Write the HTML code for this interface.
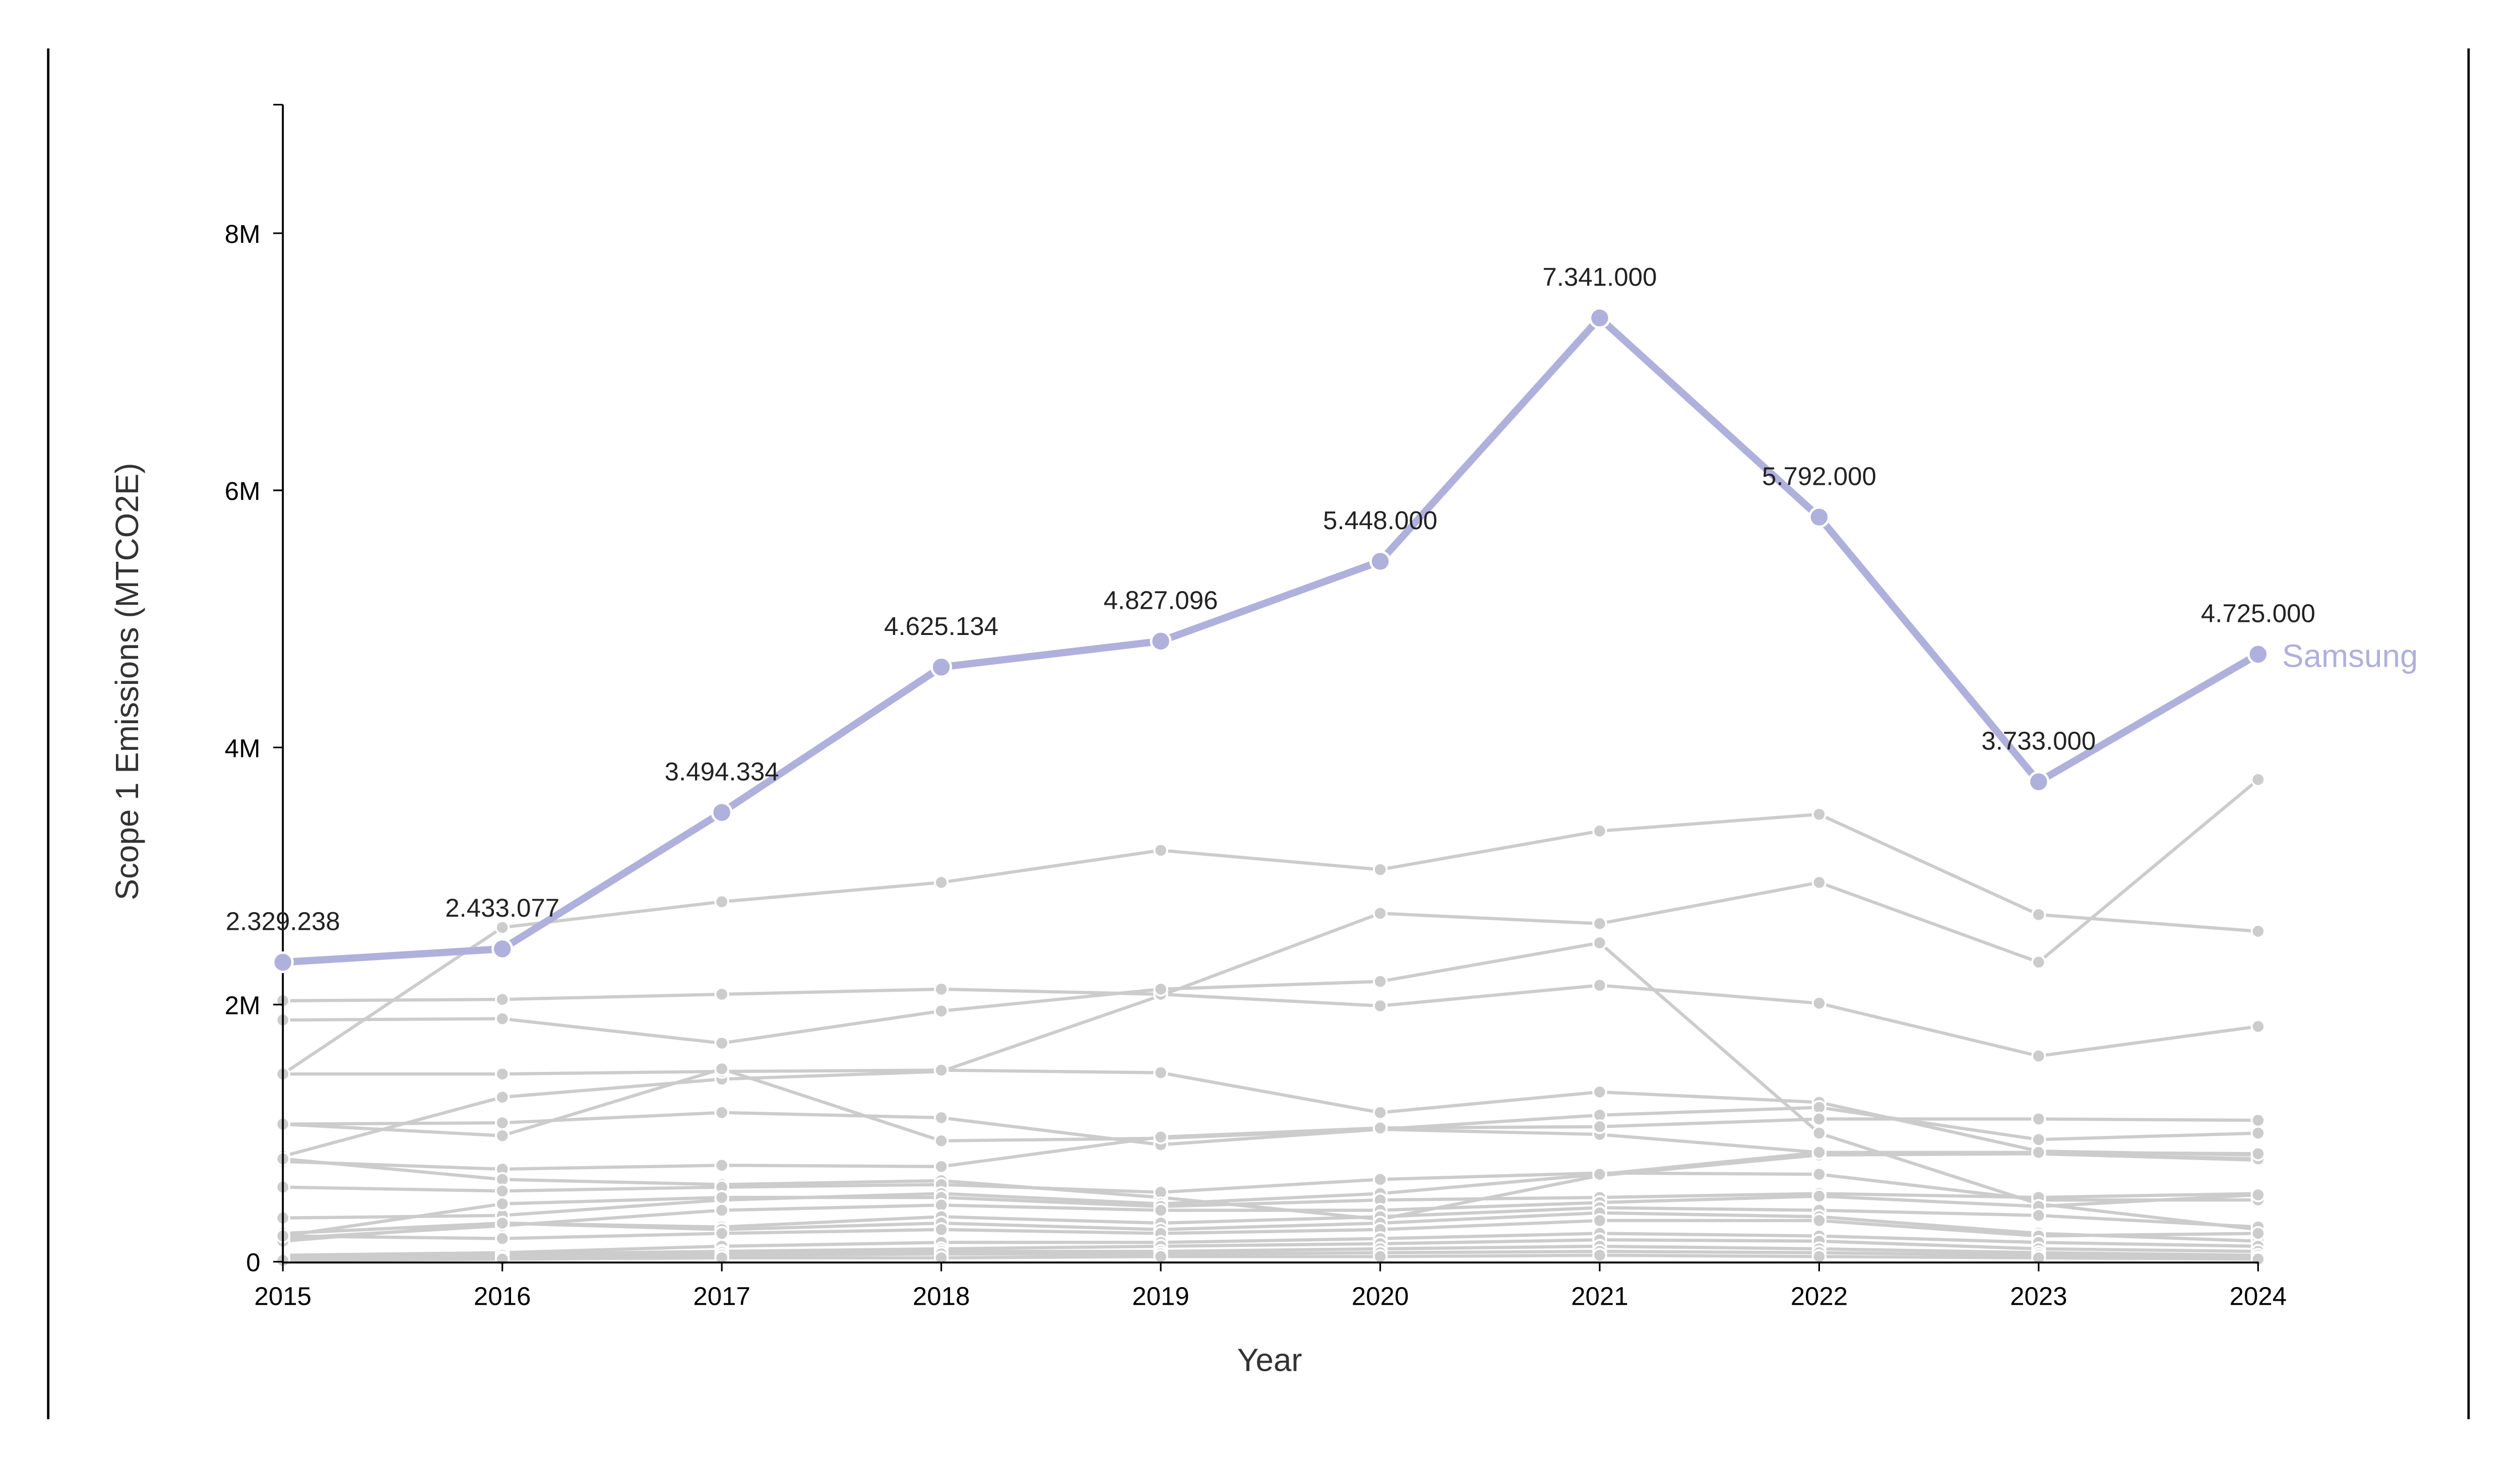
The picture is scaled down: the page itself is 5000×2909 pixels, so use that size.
<!DOCTYPE html>
<html><head><meta charset="utf-8"><style>
html,body{margin:0;padding:0;background:#fff;}
svg{display:block;}
text{font-family:"Liberation Sans",sans-serif;}
</style></head><body>
<svg width="5000" height="2909" viewBox="0 0 1568 912" xmlns="http://www.w3.org/2000/svg">
<rect width="1568" height="912" fill="#fff"/>
<line x1="30" y1="30" x2="30" y2="883" stroke="#000" stroke-width="1.5"/>
<line x1="1536" y1="30" x2="1536" y2="883" stroke="#000" stroke-width="1.5"/>
<g id="grays" fill="none" stroke="#cccccc" stroke-width="2"></g>
<g id="gdots"></g>
<line x1="176" y1="65" x2="176" y2="786" stroke="#000" stroke-width="1.2"/>
<line x1="176" y1="785.5" x2="1405" y2="785.5" stroke="#000" stroke-width="1.2"/>
<g id="axes" font-size="16" fill="#000"></g>
<g id="sam"></g>
<text x="790" y="853" font-size="20" text-anchor="middle" fill="#333">Year</text>
<text transform="translate(86,424) rotate(-90)" font-size="20" text-anchor="middle" fill="#333">Scope 1 Emissions (MTCO2E)</text>
<text x="1420" y="415" font-size="20" fill="#b0b0dd">Samsung</text>
</svg>
<script>
const NS="http://www.w3.org/2000/svg";
const X=i=>176+i*136.56, Y=v=>785-80*v;
function el(t,a,p){const e=document.createElementNS(NS,t);for(const k in a)e.setAttribute(k,a[k]);p.appendChild(e);return e;}
const ax=document.getElementById('axes');
el('line',{x1:170,y1:65,x2:176,y2:65,stroke:'#000'},ax);
[[0,'0'],[2,'2M'],[4,'4M'],[6,'6M'],[8,'8M']].forEach(([v,t])=>{
 el('line',{x1:170,y1:Y(v),x2:176,y2:Y(v),stroke:'#000'},ax);
 const tx=el('text',{x:162,y:Y(v)+6,'text-anchor':'end'},ax);tx.textContent=t;});
for(let i=0;i<10;i++){el('line',{x1:X(i),y1:785,x2:X(i),y2:791,stroke:'#000'},ax);
 const tx=el('text',{x:X(i),y:812,'text-anchor':'middle'},ax);tx.textContent=2015+i;}
const G=[
[1.46,2.6,2.8,2.95,3.2,3.05,3.35,3.48,2.7,2.57],
[0.82,1.28,1.42,1.48,2.07,2.71,2.63,2.95,2.33,3.75],
[2.03,2.04,2.08,2.12,2.08,1.99,2.15,2.01,1.6,1.83],
[1.88,1.89,1.7,1.95,2.12,2.18,2.48,1.0,0.45,0.25],
[1.46,1.46,1.48,1.49,1.47,1.16,1.32,1.24,0.86,0.83],
[1.07,0.98,1.5,0.94,0.96,1.03,1.14,1.2,0.95,1.0],
[1.07,1.08,1.16,1.12,0.91,1.03,0.99,0.85,0.84,0.79],
[0.78,0.72,0.75,0.74,0.97,1.04,1.05,1.11,1.11,1.1],
[0.8,0.64,0.6,0.63,0.5,0.33,0.67,0.83,0.84,0.8],
[0.58,0.55,0.58,0.6,0.54,0.64,0.69,0.68,0.48,0.48],
[0.34,0.36,0.48,0.53,0.45,0.53,0.68,0.85,0.85,0.84],
[0.2,0.45,0.5,0.5,0.43,0.48,0.5,0.53,0.5,0.53],
[0.18,0.28,0.4,0.44,0.4,0.4,0.46,0.51,0.43,0.52],
[0.22,0.3,0.27,0.35,0.3,0.35,0.42,0.4,0.36,0.27],
[0.16,0.3,0.25,0.3,0.25,0.3,0.38,0.35,0.22,0.16],
[0.2,0.18,0.22,0.25,0.22,0.25,0.32,0.32,0.2,0.22],
[0.05,0.07,0.12,0.15,0.15,0.18,0.22,0.2,0.15,0.12],
[0.04,0.06,0.08,0.1,0.12,0.14,0.17,0.16,0.1,0.08],
[0.03,0.05,0.07,0.08,0.08,0.1,0.12,0.1,0.07,0.05],
[0.02,0.03,0.05,0.06,0.06,0.07,0.08,0.07,0.05,0.03],
[0.01,0.02,0.03,0.03,0.04,0.04,0.05,0.04,0.03,0.02]];
const gl=document.getElementById('grays'),gd=document.getElementById('gdots');
G.forEach(s=>{el('polyline',{points:s.map((v,i)=>X(i)+','+Y(v)).join(' ')},gl);
 s.forEach((v,i)=>el('circle',{cx:X(i),cy:Y(v),r:4,fill:'#cccccc',stroke:'#fff','stroke-width':1.2},gd));});
const S=[2.329238,2.433077,3.494334,4.625134,4.827096,5.448,7.341,5.792,3.733,4.725];
const L=['2.329.238','2.433.077','3.494.334','4.625.134','4.827.096','5.448.000','7.341.000','5.792.000','3.733.000','4.725.000'];
const sg=document.getElementById('sam');
el('polyline',{points:S.map((v,i)=>X(i)+','+Y(v)).join(' '),fill:'none',stroke:'#b0b0dd','stroke-width':4.5},sg);
S.forEach((v,i)=>{el('circle',{cx:X(i),cy:Y(v),r:6,fill:'#b0b0dd',stroke:'#fff','stroke-width':1.5},sg);
 const t=el('text',{x:X(i),y:Y(v)-20,'text-anchor':'middle','font-size':16,fill:'#222'},sg);t.textContent=L[i];});
</script>
</body></html>
